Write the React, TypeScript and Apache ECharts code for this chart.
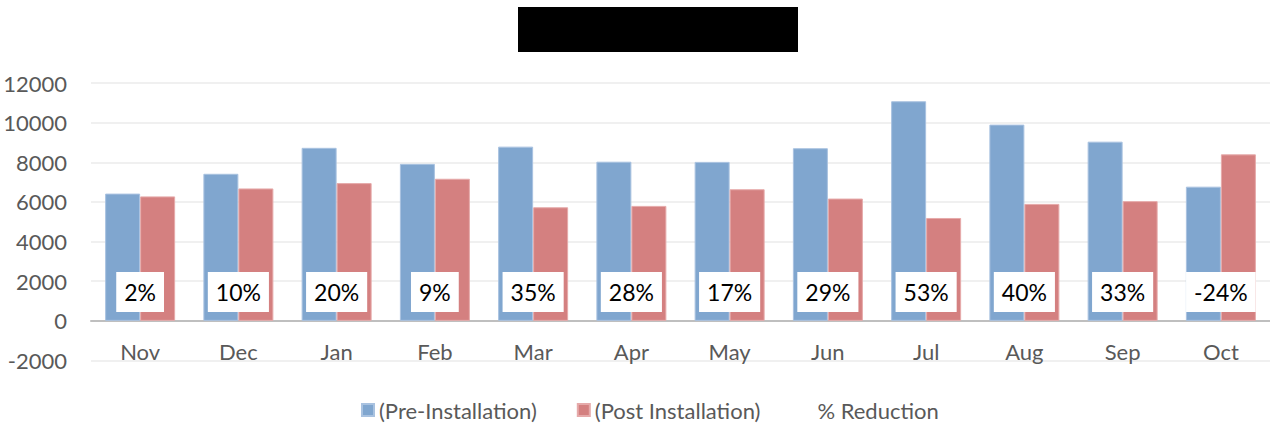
import React, { useEffect, useRef } from "react";
import * as echarts from "echarts";

const categories = ["Nov", "Dec", "Jan", "Feb", "Mar", "Apr", "May", "Jun", "Jul", "Aug", "Sep", "Oct"];
const preInstallation = [6420, 7420, 8730, 7920, 8790, 8030, 8020, 8710, 11080, 9900, 9040, 6770];
const postInstallation = [6280, 6680, 6950, 7170, 5730, 5800, 6640, 6170, 5190, 5900, 6040, 8400];
const reductionPct = [2, 10, 20, 9, 35, 28, 17, 29, 53, 40, 33, -24];

const LABEL_LEVEL = 1460;
const FONT = "Lato, 'Open Sans', sans-serif";
const TEXT_GREY = "#595959";

export default function App() {
  const ref = useRef<HTMLDivElement>(null);
  useEffect(() => {
    document.body.style.margin = "0";
    const chart = echarts.init(ref.current!, undefined, { renderer: "svg" });
    chart.setOption({
      animation: false,
      backgroundColor: "#ffffff",
      textStyle: { fontFamily: FONT },
      graphic: [
        {
          type: "rect",
          x: 518,
          y: 7,
          shape: { x: 0, y: 0, width: 280, height: 45 },
          style: { fill: "#000000" },
        },
      ],
      grid: { left: 91, width: 1181, top: 83, height: 277.5, containLabel: false },
      legend: {
        left: 356,
        top: 394,
        icon: "rect",
        itemWidth: 12,
        itemHeight: 12,
        itemGap: 40,
        textStyle: { color: TEXT_GREY, fontSize: 22, fontFamily: FONT },
        data: ["(Pre-Installation)", "(Post Installation)", "% Reduction"],
      },
      xAxis: {
        type: "category",
        data: categories,
        axisTick: { show: false },
        axisLine: { show: true, onZero: true, lineStyle: { color: "#bfbfbf", width: 2 } },
        axisLabel: { color: TEXT_GREY, fontSize: 22, margin: -20, fontFamily: FONT },
      },
      yAxis: [
        {
          type: "value",
          min: -2000,
          max: 12000,
          interval: 2000,
          axisLine: { show: false },
          axisTick: { show: false },
          axisLabel: {
            color: TEXT_GREY,
            fontSize: 22,
            margin: 24,
            fontFamily: FONT,
            formatter: (v: number) => String(v),
          },
          splitLine: { show: true, lineStyle: { color: "#ebebeb", width: 1.5 } },
        },
      ],
      series: [
        {
          name: "(Pre-Installation)",
          type: "bar",
          data: preInstallation,
          barWidth: 35,
          barGap: "0%",
          itemStyle: { color: "#80A6CF", borderColor: "#a9c2e0", borderWidth: 1 },
        },
        {
          name: "(Post Installation)",
          type: "bar",
          data: postInstallation,
          barWidth: 35,
          barGap: "0%",
          itemStyle: { color: "#D48080", borderColor: "#e6aaaa", borderWidth: 1 },
        },
        {
          name: "% Reduction",
          type: "custom",
          z: 10,
          itemStyle: { color: "rgba(0,0,0,0)" },
          data: reductionPct.map((p, i) => [i, p]),
          renderItem: (params: any, api: any) => {
            const idx = params.dataIndex;
            const pt = api.coord([idx, LABEL_LEVEL]);
            return {
              type: "text",
              x: pt[0],
              y: pt[1],
              style: {
                text: reductionPct[idx] + "%",
                fontSize: 23,
                fontFamily: FONT,
                fill: "#000000",
                align: "center",
                verticalAlign: "middle",
                backgroundColor: "#ffffff",
                padding: [6, 8],
                lineHeight: 28,
              },
            };
          },
        },
      ],
    });
    return () => chart.dispose();
  }, []);
  return <div ref={ref} style={{ width: 1270, height: 428 }} />;
}
